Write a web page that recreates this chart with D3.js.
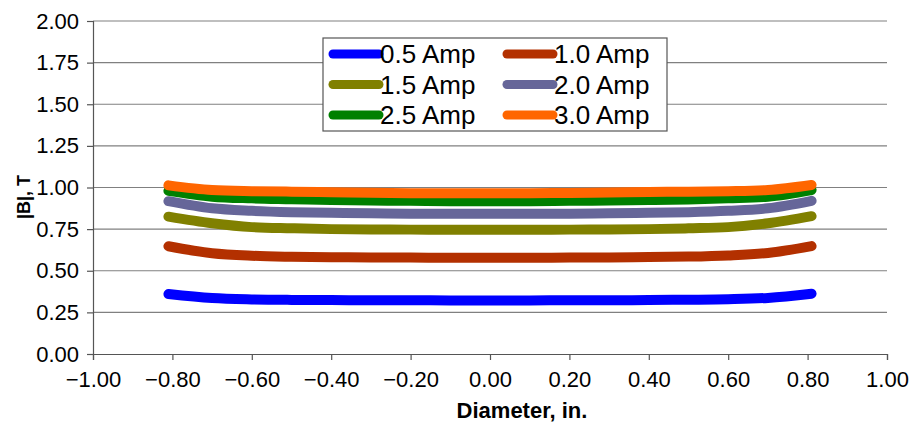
<!DOCTYPE html>
<html>
<head>
<meta charset="utf-8">
<script src="https://cdn.jsdelivr.net/npm/d3@7"></script>
<style>
  body { margin: 0; background: #fff; }
  text { font-family: Arial, "Liberation Sans", sans-serif; }
</style>
</head>
<body>
<div class="chart"></div>
<script>
var svgWidth = 916;
var svgHeight = 427;

var margin = { top: 21, right: 29, bottom: 73, left: 93 };
var width = svgWidth - margin.left - margin.right;
var height = svgHeight - margin.top - margin.bottom;

// positions across the diameter, in.
var diameter = [-0.81, -0.7, -0.6, -0.5, -0.4, -0.3, -0.2, -0.1, 0, 0.1, 0.2, 0.3, 0.4, 0.5, 0.6, 0.7, 0.81];

var seriesNames = ["0.5 Amp", "1.0 Amp", "1.5 Amp", "2.0 Amp", "2.5 Amp", "3.0 Amp"];
var seriesColors = ["#0000ff", "#b33000", "#808000", "#666699", "#008000", "#ff6600"];

var amp05 = [0.360, 0.336, 0.328, 0.325, 0.324, 0.323, 0.323, 0.322, 0.322, 0.322, 0.323, 0.323, 0.324, 0.326, 0.329, 0.337, 0.362];
var amp10 = [0.647, 0.605, 0.590, 0.584, 0.581, 0.580, 0.579, 0.578, 0.578, 0.578, 0.579, 0.580, 0.582, 0.585, 0.592, 0.607, 0.648];
var amp15 = [0.825, 0.785, 0.762, 0.755, 0.750, 0.748, 0.747, 0.746, 0.746, 0.746, 0.747, 0.748, 0.750, 0.755, 0.762, 0.785, 0.828];
var amp20 = [0.918, 0.875, 0.860, 0.852, 0.848, 0.845, 0.843, 0.842, 0.842, 0.842, 0.843, 0.845, 0.848, 0.852, 0.860, 0.875, 0.920];
var amp25 = [0.980, 0.945, 0.935, 0.930, 0.925, 0.922, 0.920, 0.918, 0.918, 0.918, 0.920, 0.922, 0.925, 0.928, 0.935, 0.945, 0.985];
var amp30 = [1.013, 0.985, 0.978, 0.975, 0.972, 0.968, 0.966, 0.965, 0.965, 0.966, 0.967, 0.970, 0.973, 0.975, 0.978, 0.985, 1.015];

var seriesValues = [amp05, amp10, amp15, amp20, amp25, amp30];

var xTicks = [-1, -0.8, -0.6, -0.4, -0.2, 0, 0.2, 0.4, 0.6, 0.8, 1];
var yTicks = [0, 0.25, 0.5, 0.75, 1, 1.25, 1.5, 1.75, 2];

var svg = d3.select(".chart")
  .append("svg")
  .attr("width", svgWidth)
  .attr("height", svgHeight);

var chartGroup = svg.append("g")
  .attr("transform", `translate(${margin.left}, ${margin.top})`);

var xScale = d3.scaleLinear().domain([-1, 1]).range([0, width]);
var yScale = d3.scaleLinear().domain([0, 2]).range([height, 0]);

var fmt = function(d) { return d3.format(".2f")(d).replace("-", "\u2212"); };

// horizontal gridlines
chartGroup.selectAll(".grid")
  .data(yTicks.filter(d => d > 0))
  .enter()
  .append("line")
  .attr("x1", 0)
  .attr("x2", width)
  .attr("y1", d => yScale(d))
  .attr("y2", d => yScale(d))
  .attr("stroke", "#808080")
  .attr("stroke-width", 1.2);

// axes
var bottomAxis = d3.axisBottom(xScale).tickValues(xTicks).tickFormat(fmt).tickSize(6).tickPadding(11);
var leftAxis = d3.axisLeft(yScale).tickValues(yTicks).tickFormat(fmt).tickSize(6).tickPadding(8);

var xAxis = chartGroup.append("g")
  .attr("transform", `translate(0, ${height})`)
  .call(bottomAxis);

var yAxis = chartGroup.append("g")
  .call(leftAxis);

[xAxis, yAxis].forEach(function(ax) {
  ax.select(".domain").attr("stroke", "#555").attr("stroke-width", 1.2);
  ax.selectAll(".tick line").attr("stroke", "#555").attr("stroke-width", 1.2);
  ax.selectAll(".tick text")
    .attr("fill", "#000")
    .style("font-size", "22px")
    .style("font-family", "Arial, 'Liberation Sans', sans-serif");
});

// series lines
var line = d3.line()
  .x((d, i) => xScale(diameter[i]))
  .y(d => yScale(d))
  .curve(d3.curveMonotoneX);

chartGroup.selectAll(".series")
  .data(seriesValues)
  .enter()
  .append("path")
  .attr("d", d => line(d))
  .attr("fill", "none")
  .attr("stroke", (d, i) => seriesColors[i])
  .attr("stroke-width", 10)
  .attr("stroke-linecap", "round")
  .attr("stroke-linejoin", "round");

// legend
var legend = svg.append("g")
  .attr("transform", "translate(323, 38)");

legend.append("rect")
  .attr("width", 344)
  .attr("height", 93)
  .attr("fill", "#fff")
  .attr("stroke", "#555")
  .attr("stroke-width", 1.2);

var legendItems = legend.selectAll(".item")
  .data(seriesNames)
  .enter()
  .append("g")
  .attr("transform", (d, i) => `translate(${(i % 2) * 174}, ${16 + Math.floor(i / 2) * 30.5})`);

legendItems.append("line")
  .attr("x1", 10)
  .attr("x2", 56)
  .attr("y1", 0)
  .attr("y2", 0)
  .attr("stroke", (d, i) => seriesColors[i])
  .attr("stroke-width", 9)
  .attr("stroke-linecap", "round");

legendItems.append("text")
  .attr("x", 57)
  .attr("y", 9)
  .style("font-size", "26px")
  .text(d => d);

// axis titles
svg.append("text")
  .attr("x", 522)
  .attr("y", 418)
  .attr("text-anchor", "middle")
  .style("font-size", "22px")
  .style("font-weight", "bold")
  .text("Diameter, in.");

svg.append("text")
  .attr("transform", "translate(30, 197) rotate(-90)")
  .attr("text-anchor", "middle")
  .style("font-size", "18px")
  .style("font-weight", "bold")
  .text("|B|, T");
</script>
</body>
</html>
